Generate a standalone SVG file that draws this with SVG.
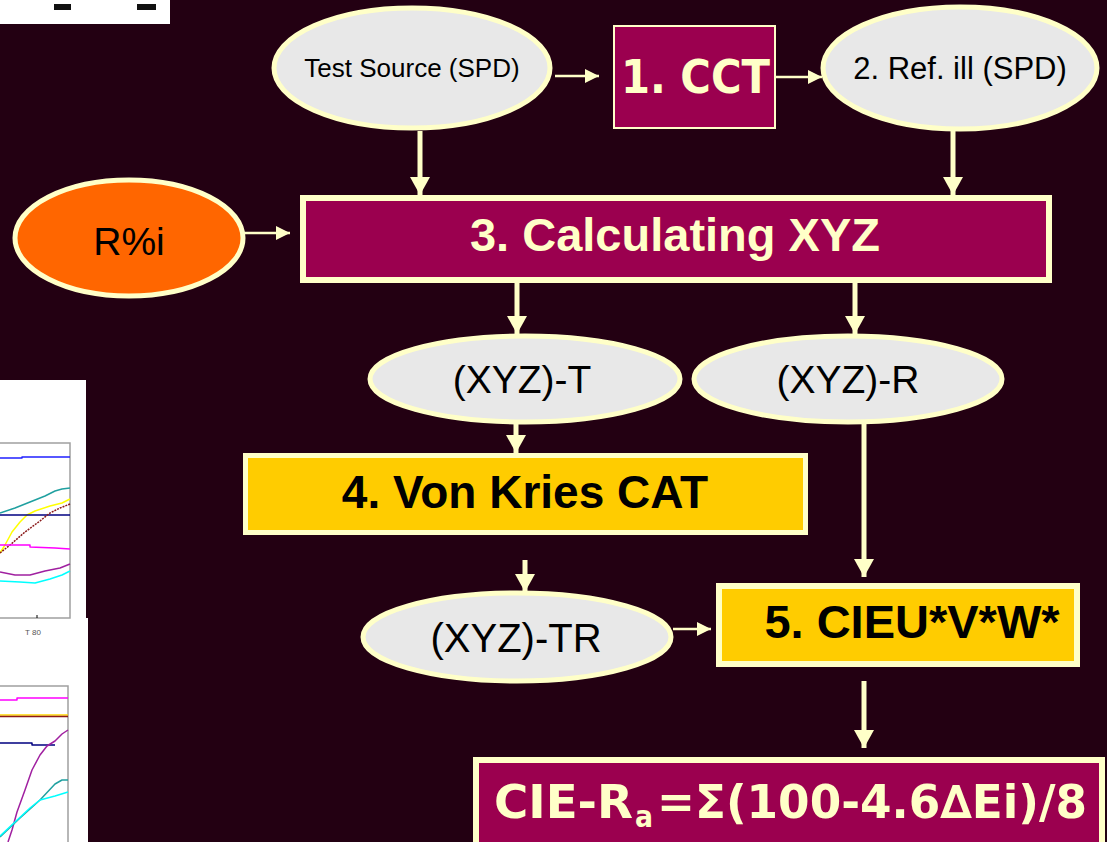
<svg xmlns="http://www.w3.org/2000/svg" width="1107" height="842" viewBox="0 0 1107 842">
  <defs>
    <style>
      .ell { fill: #E8E8E8; stroke: #FFFFC8; stroke-width: 5; }
      .lbl { font-family: "Liberation Sans", Arial, sans-serif; fill: #000; text-anchor: middle; }
      .hd { font-family: "Liberation Sans", Arial, sans-serif; font-weight: bold; text-anchor: middle; }
      .cond { font-family: "DejaVu Sans Condensed", "DejaVu Sans", Verdana, sans-serif; font-weight: bold; fill: #FFFFC8; }
      .thin { stroke: #FFFFC8; stroke-width: 2.5; fill: none; marker-end: url(#headThin); }
      .thick { stroke: #FFFFC8; stroke-width: 5; fill: none; marker-end: url(#headThick); }
      .maroon { fill: #9B004F; stroke: #FFFFC8; }
      .gold { fill: #FFCC00; stroke: #FFFFC8; }
      .plot { fill: none; stroke-width: 1.5; stroke-linejoin: round; }
    </style>
    <marker id="headThin" viewBox="0 0 14 14" refX="14" refY="7" markerWidth="14" markerHeight="14" markerUnits="userSpaceOnUse" orient="auto">
      <path d="M0,0 L14,7 L0,14 z" fill="#FFFFC8"/>
    </marker>
    <marker id="headThick" viewBox="0 0 18 20" refX="18" refY="10" markerWidth="18" markerHeight="20" markerUnits="userSpaceOnUse" orient="auto">
      <path d="M0,0 L18,10 L0,20 z" fill="#FFFFC8"/>
    </marker>
  </defs>

  <rect x="0" y="0" width="1107" height="842" fill="#230012"/>

  <!-- partial chart strip, top left -->
  <g id="chart-top">
    <rect x="0" y="0" width="170" height="24" fill="#FFFFFF"/>
    <rect x="54" y="4" width="17" height="6" fill="#111"/>
    <rect x="137" y="4" width="19" height="6" fill="#111"/>
  </g>

  <!-- partial charts, left edge -->
  <g id="charts-left">
    <rect x="0" y="380" width="86" height="462" fill="#FFFFFF"/>
    <rect x="86" y="618" width="2" height="224" fill="#FFFFFF"/>
    <path d="M0,443 H70 V618 H0" fill="none" stroke="#A0A0A0" stroke-width="1.5"/>
    <line x1="37" y1="615" x2="37" y2="618" stroke="#000" stroke-width="1"/>
    <text x="33" y="635" font-family="Liberation Sans, Arial, sans-serif" font-size="8" fill="#555" text-anchor="middle">T 80</text>
    <path class="plot" stroke="#2020FF" d="M0,458 L22,458 L22,457 L70,457"/>
    <path class="plot" stroke="#20A0A0" d="M0,513 L15,508 L30,502 L45,496 L55,491 L62,489 L70,488"/>
    <path class="plot" stroke="#FFFF00" d="M0,553 L5,545 L12,532 L20,522 L27,515 L35,511 L50,506 L62,503 L70,499"/>
    <path class="plot" stroke="#000080" d="M0,515 L70,515"/>
    <path class="plot" stroke="#8B1A1A" stroke-dasharray="2 1" d="M0,553 L10,545 L25,532 L40,521 L50,513 L60,508 L70,504"/>
    <path class="plot" stroke="#FF00FF" d="M0,545 L30,545 L30,547 L55,548 L70,549"/>
    <path class="plot" stroke="#A020A0" d="M0,572 L15,575 L30,575 L45,571 L60,568 L70,564"/>
    <path class="plot" stroke="#00FFFF" d="M0,581 L20,582 L35,583 L50,579 L62,575 L70,571"/>

    <path d="M0,686 H68 V842" fill="none" stroke="#A0A0A0" stroke-width="1.5"/>
    <path class="plot" stroke="#FF00FF" d="M0,700 L17,700 L17,698 L68,698"/>
    <path class="plot" stroke="#FFD700" stroke-width="3" d="M0,715 L68,715"/>
    <path class="plot" stroke="#8B1A1A" stroke-width="1" d="M0,716.5 L68,716.5"/>
    <path class="plot" stroke="#000080" d="M0,743 L32,743 L32,745 L55,745"/>
    <path class="plot" stroke="#A020A0" d="M8,842 L12,830 L17,812 L25,790 L32,770 L40,755 L47,746 L55,741 L62,734 L68,730"/>
    <path class="plot" stroke="#20A0A0" d="M0,837 L20,818 L40,800 L55,784 L62,780 L68,780"/>
    <path class="plot" stroke="#00FFFF" d="M0,836 L15,822 L30,808 L40,800 L55,796 L68,792"/>
  </g>

  <!-- connectors -->
  <g id="connectors">
    <line class="thin" x1="555" y1="76" x2="599" y2="76"/>
    <line class="thin" x1="776" y1="77" x2="822" y2="77"/>
    <line class="thick" x1="420" y1="131" x2="420" y2="195"/>
    <line class="thick" x1="953" y1="131" x2="953" y2="195"/>
    <line class="thin" x1="245" y1="233" x2="290" y2="233"/>
    <line class="thick" x1="517" y1="283" x2="517" y2="334"/>
    <line class="thick" x1="855" y1="283" x2="855" y2="334"/>
    <line class="thick" x1="516" y1="423" x2="516" y2="453"/>
    <line class="thick" x1="525" y1="560" x2="525" y2="592"/>
    <line class="thin" x1="673" y1="629" x2="711" y2="629"/>
    <line class="thick" x1="864" y1="424" x2="864" y2="577"/>
    <line class="thick" x1="864" y1="681" x2="864" y2="748"/>
  </g>

  <g id="test-source">
    <ellipse class="ell" cx="412" cy="68" rx="138" ry="60"/>
    <text class="lbl" x="412" y="77" font-size="26">Test Source (SPD)</text>
  </g>

  <g id="cct">
    <rect class="maroon" x="614" y="26" width="161" height="102" stroke-width="2"/>
    <text class="cond" x="621" y="93" font-size="47" textLength="149" lengthAdjust="spacingAndGlyphs">1. CCT</text>
  </g>

  <g id="ref-ill">
    <ellipse class="ell" cx="960" cy="68" rx="137" ry="61"/>
    <text class="lbl" x="960" y="79" font-size="31">2. Ref. ill (SPD)</text>
  </g>

  <g id="r-pct">
    <ellipse cx="129" cy="238" rx="114" ry="58" fill="#FF6600" stroke="#FFFFC8" stroke-width="5"/>
    <text class="lbl" x="129" y="255" font-size="39">R%i</text>
  </g>

  <g id="calc-xyz">
    <rect class="maroon" x="303" y="198" width="746" height="82" stroke-width="6"/>
    <text class="hd" x="675" y="251" font-size="47" fill="#FFFFC8">3. Calculating XYZ</text>
  </g>

  <g id="xyz-t">
    <ellipse class="ell" cx="525" cy="379" rx="155" ry="43"/>
    <text class="lbl" x="522" y="393" font-size="39">(XYZ)-T</text>
  </g>

  <g id="xyz-r">
    <ellipse class="ell" cx="848" cy="379" rx="154" ry="43"/>
    <text class="lbl" x="848" y="393" font-size="39">(XYZ)-R</text>
  </g>

  <g id="von-kries">
    <rect class="gold" x="245.5" y="455.5" width="560" height="77" stroke-width="5"/>
    <text class="hd" x="525" y="508" font-size="46" fill="#000">4. Von Kries CAT</text>
  </g>

  <g id="xyz-tr">
    <ellipse class="ell" cx="517" cy="637" rx="154" ry="44"/>
    <text class="lbl" x="516" y="652" font-size="40">(XYZ)-TR</text>
  </g>

  <g id="cieuvw">
    <rect class="gold" x="719" y="586" width="358" height="78" stroke-width="6"/>
    <text class="hd" x="912" y="638" font-size="47" fill="#000">5. CIEU*V*W*</text>
  </g>

  <g id="cie-ra">
    <rect class="maroon" x="476" y="760" width="626" height="90" stroke-width="6"/>
    <text class="cond" x="494" y="818" font-size="46" textLength="139" lengthAdjust="spacingAndGlyphs">CIE-R</text>
    <text class="cond" x="635" y="827" font-size="30" textLength="18" lengthAdjust="spacingAndGlyphs">a</text>
    <text class="cond" x="657" y="818" font-size="46" textLength="430" lengthAdjust="spacingAndGlyphs">=Σ(100-4.6∆Ei)/8</text>
  </g>
</svg>
